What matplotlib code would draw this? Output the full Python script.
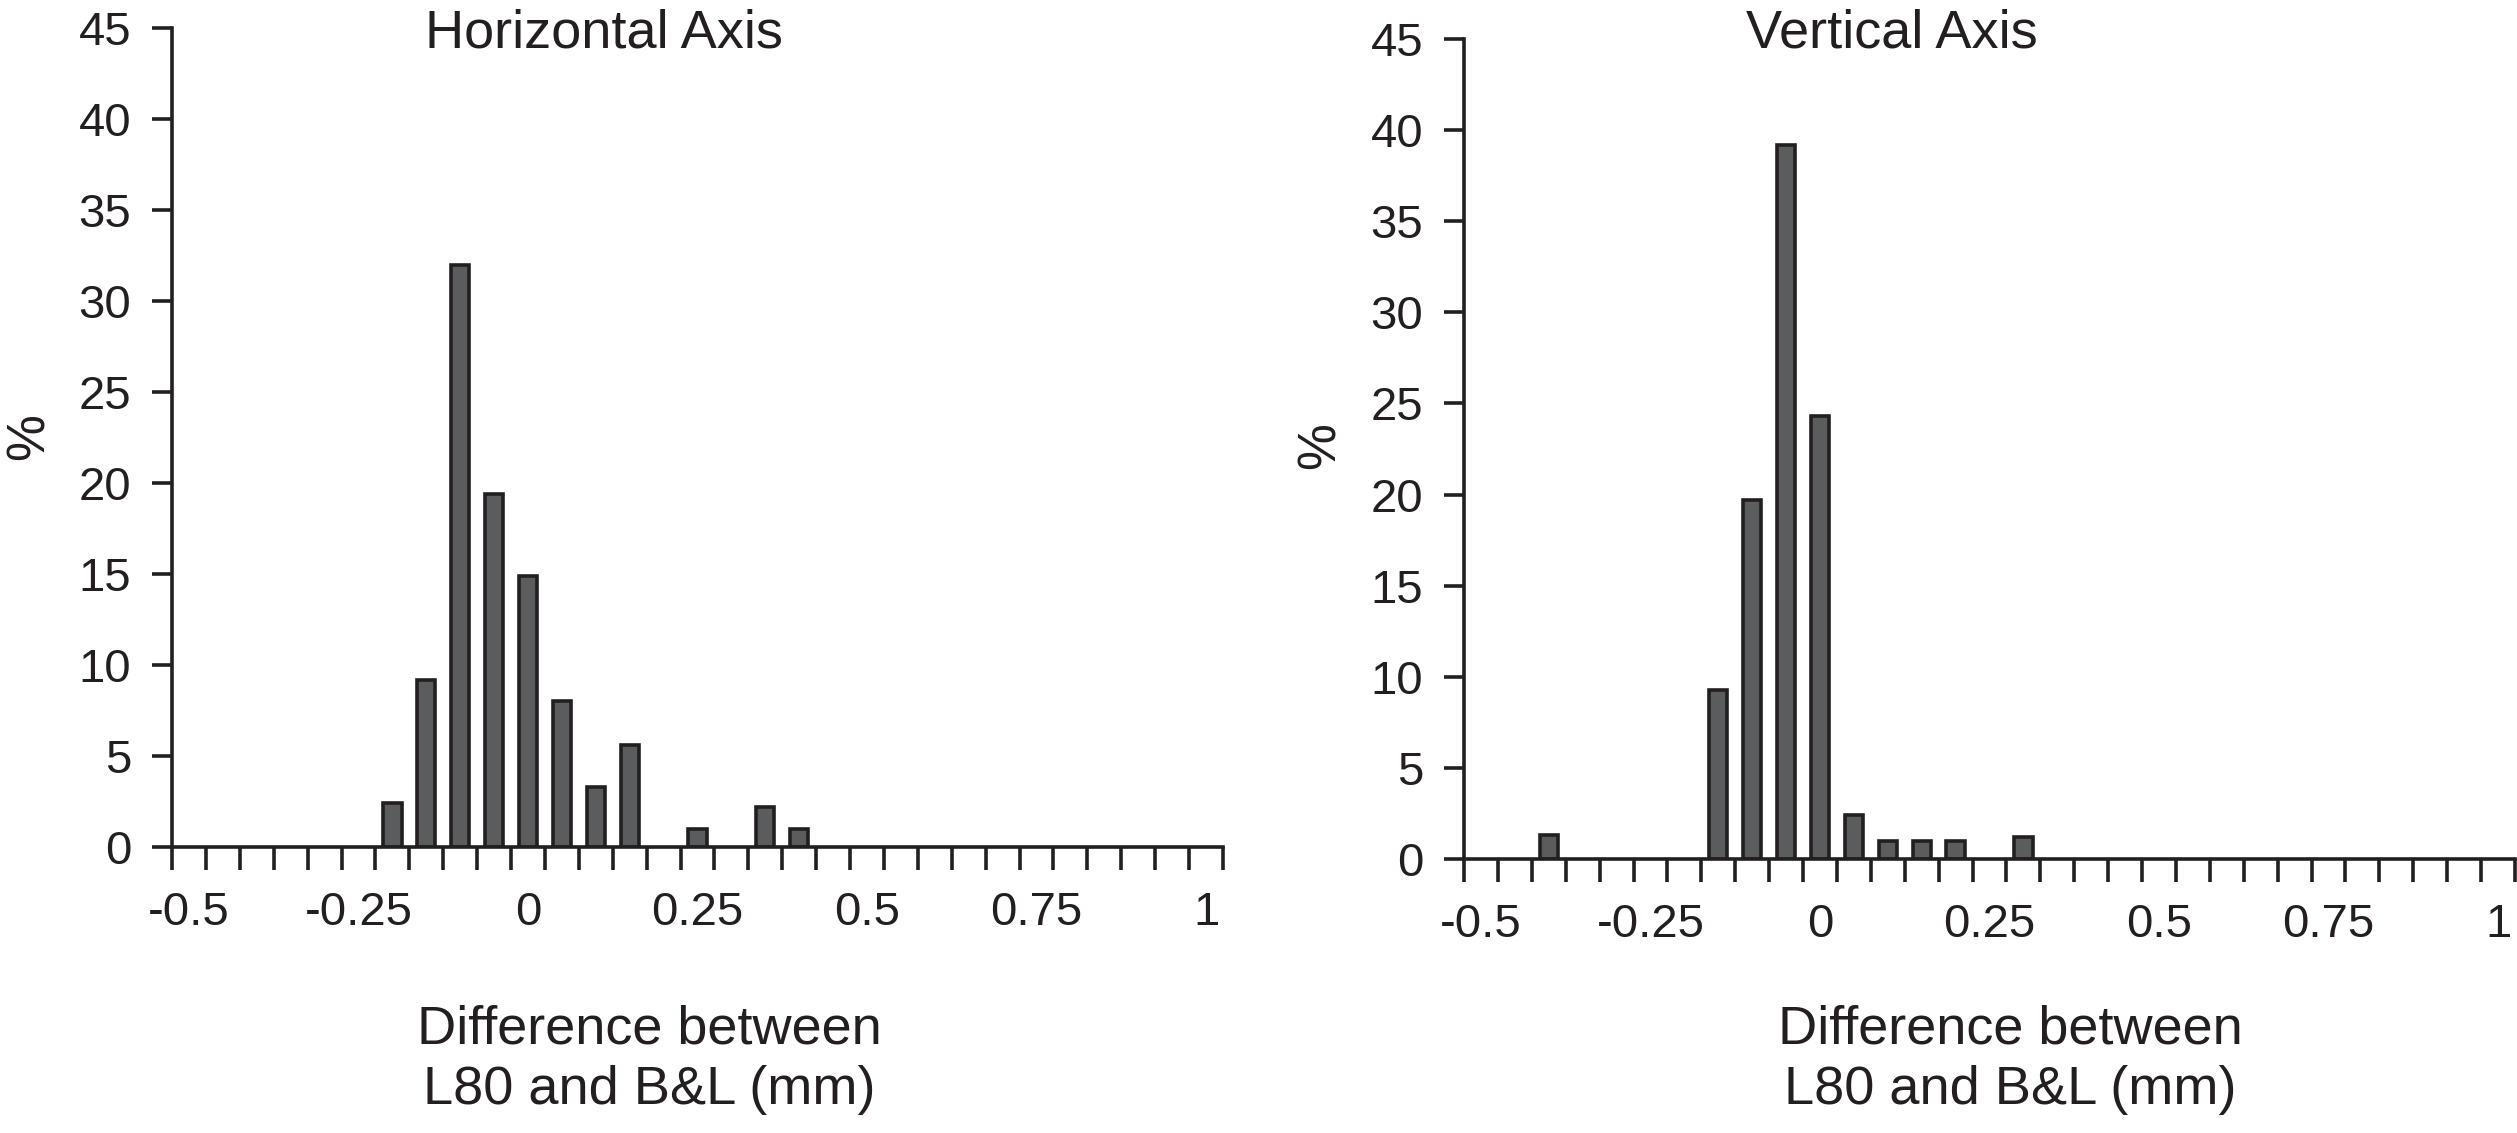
import numpy as np
import matplotlib
matplotlib.use('Agg')
from matplotlib import pyplot as plt

plt.rcParams['font.family'] = ['Liberation Sans', 'DejaVu Sans']

# bin centres run from -0.5 to 1.0 in steps of 0.05
bin_step = 0.05
bin_first = -0.5
bin_last = 1.0

# horizontal axis histogram (% of eyes per bin)
horiz_x = [-0.2, -0.15, -0.1, -0.05, 0.0, 0.05, 0.1, 0.15, 0.25, 0.35, 0.4]
horiz_pct = [2.4, 9.2, 32.0, 19.4, 14.9, 8.0, 3.3, 5.6, 1.0, 2.2, 1.0]

# vertical axis histogram
vert_x = [-0.4, -0.15, -0.1, -0.05, 0.0, 0.05, 0.1, 0.15, 0.2, 0.3]
vert_pct = [1.3, 9.3, 19.7, 39.2, 24.3, 2.4, 1.0, 1.0, 1.0, 1.2]

x_label_pos = [-0.5, -0.25, 0.0, 0.25, 0.5, 0.75, 1.0]
x_labels = ['-0.5', '-0.25', '0', '0.25', '0.5', '0.75', '1']
y_ticks = list(range(0, 50, 5))

titles = ['Horizontal Axis', 'Vertical Axis']
xlabel_lines = ['Difference between', 'L80 and B&L (mm)']

TXT = '#231f20'
BAR = '#5b5c5e'
W, H = 2517, 1133

fig = plt.figure(figsize=(W / 100, H / 100), dpi=100)
fig.patch.set_facecolor('white')

# axes boxes in pixels: left, right, top(45), bottom(0)
boxes = [(172, 1223, 28, 847), (1464, 2515, 39, 859)]
title_x = [604, 1892]
xlab_x = [649, 2010]
pct_pos = [(30, 437), (1321, 446)]

boundaries = np.arange(bin_first - bin_step / 2, bin_last + bin_step, bin_step)

for k, (xs, ys) in enumerate([(horiz_x, horiz_pct), (vert_x, vert_pct)]):
    l, r, t, b = boxes[k]
    ax = fig.add_axes([l / W, 1 - b / H, (r - l) / W, (b - t) / H])
    ax.bar(xs, ys, width=0.027, color=BAR, edgecolor=TXT, linewidth=2.6, zorder=2)

    ax.set_xlim(boundaries[0], boundaries[-1])
    ax.set_ylim(0, 45)
    for s in ['top', 'right']:
        ax.spines[s].set_visible(False)
    for s in ['left', 'bottom']:
        ax.spines[s].set_linewidth(2.6)
        ax.spines[s].set_color(TXT)
        ax.spines[s].set_zorder(3)

    # ticks at the bin edges, labels at bin centres
    ax.set_xticks(boundaries)
    ax.set_xticklabels([])
    ax.set_xticks(x_label_pos, minor=True)
    ax.set_xticklabels(x_labels, minor=True, fontsize=34, color=TXT)
    ax.tick_params(axis='x', which='major', direction='out', length=16.5, width=2.6, color=TXT)
    ax.tick_params(axis='x', which='minor', length=0, pad=32)

    ax.set_yticks(y_ticks)
    ax.set_yticklabels([str(v) for v in y_ticks], fontsize=34, color=TXT)
    ax.tick_params(axis='y', direction='out', length=14.5, width=2.6, color=TXT, pad=15)

    fig.text(title_x[k] / W, 1 - 48 / H, titles[k], ha='center', va='baseline',
             fontsize=39, color=TXT)
    fig.text(xlab_x[k] / W, 1 - 1043 / H, xlabel_lines[0], ha='center', va='baseline',
             fontsize=39, color=TXT)
    fig.text(xlab_x[k] / W, 1 - 1104 / H, xlabel_lines[1], ha='center', va='baseline',
             fontsize=39, color=TXT)
    px, py = pct_pos[k]
    fig.text(px / W, 1 - py / H, '%', ha='center', va='center', rotation=90,
             fontsize=38, color=TXT)

fig.savefig('out.png', dpi=100, facecolor='white')
plt.close()
